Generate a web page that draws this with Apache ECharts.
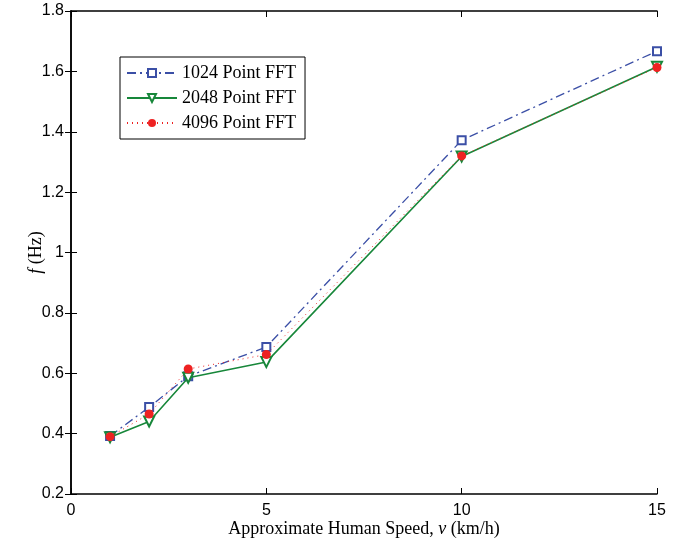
<!DOCTYPE html>
<html>
<head>
<meta charset="utf-8">
<script src="https://cdn.jsdelivr.net/npm/echarts@6/dist/echarts.min.js"></script>
<style>
  html, body { margin: 0; padding: 0; background: #fff; }
  #chart { width: 682px; height: 545px; }
</style>
</head>
<body>
<div id="chart"></div>
<script>
// speeds (km/h)
const speeds = [1, 2, 3, 5, 10, 15]
// estimated frequency (Hz) per FFT size
const fft1024 = [0.392, 0.488, 0.59, 0.687, 1.372, 1.667]
const fft2048 = [0.388, 0.44, 0.585, 0.637, 1.318, 1.615]
const fft4096 = [0.39, 0.465, 0.614, 0.662, 1.32, 1.613]
const seriesNames = ['1024 Point FFT', '2048 Point FFT', '4096 Point FFT']

const pairs = ys => speeds.map((x, i) => [x, ys[i]])

const chart = echarts.init(document.getElementById('chart'))

const tickFont = { fontFamily: 'Liberation Sans, Arial, sans-serif', fontSize: 16, color: '#000' }
const boxLine = { show: true, lineStyle: { color: '#000', width: 1.5 } }
const serifRich = {
  n: { fontFamily: 'Liberation Serif, serif', fontSize: 18, color: '#000' },
  i: { fontFamily: 'Liberation Serif, serif', fontSize: 18, fontStyle: 'italic', color: '#000' }
}

chart.setOption({
  animation: false,
  grid: { left: 71, right: 25, top: 11, bottom: 51, outerBoundsMode: 'none' },
  legend: {
    left: 120,
    top: 57,
    orient: 'vertical',
    data: seriesNames,
    itemWidth: 50,
    itemHeight: 10,
    itemGap: 7,
    padding: [7, 9, 7, 6],
    borderColor: '#000',
    borderWidth: 1,
    backgroundColor: '#fff',
    textStyle: { fontFamily: 'Liberation Serif, Times New Roman, serif', fontSize: 18, color: '#000' }
  },
  xAxis: [
    {
      type: 'value',
      min: 0,
      max: 15,
      interval: 5,
      name: '{n|Approximate Human Speed, }{i|v}{n| (km/h)}',
      nameLocation: 'middle',
      nameGap: 26,
      nameMoveOverlap: false,
      nameTextStyle: { rich: serifRich },
      axisLine: boxLine,
      axisTick: { inside: true, length: 6, lineStyle: { color: '#000' } },
      axisLabel: Object.assign({ margin: 9 }, tickFont),
      splitLine: { show: false }
    },
    {
      type: 'value',
      position: 'top',
      min: 0,
      max: 15,
      interval: 5,
      axisLine: boxLine,
      axisTick: { inside: true, length: 6, lineStyle: { color: '#000' } },
      axisLabel: { show: false },
      splitLine: { show: false }
    }
  ],
  yAxis: [
    {
      type: 'value',
      min: 0.2,
      max: 1.8,
      interval: 0.2,
      name: '{i|f}{n| (Hz)}',
      nameLocation: 'middle',
      nameGap: 26,
      nameMoveOverlap: false,
      nameTextStyle: { rich: serifRich },
      axisLine: boxLine,
      axisTick: { inside: true, length: 6, lineStyle: { color: '#000' } },
      axisLabel: Object.assign({ margin: 7, formatter: v => String(Math.round(v * 10) / 10) }, tickFont),
      splitLine: { show: false }
    },
    {
      type: 'value',
      position: 'right',
      min: 0.2,
      max: 1.8,
      interval: 0.2,
      axisLine: boxLine,
      axisTick: { inside: true, length: 6, lineStyle: { color: '#000' } },
      axisLabel: { show: false },
      splitLine: { show: false }
    }
  ],
  series: [
    {
      name: seriesNames[0],
      type: 'line',
      data: pairs(fft1024),
      symbol: 'emptyRect',
      symbolSize: 8,
      color: '#3b4fa6',
      lineStyle: { width: 1.3, type: [9, 4, 2, 4] },
      itemStyle: { borderWidth: 1.5 },
      z: 3
    },
    {
      name: seriesNames[1],
      type: 'line',
      data: pairs(fft2048),
      symbol: 'emptyTriangle',
      symbolRotate: 180,
      symbolSize: 10,
      color: '#17873a',
      lineStyle: { width: 1.6 },
      itemStyle: { borderWidth: 1.5 },
      z: 4
    },
    {
      name: seriesNames[2],
      type: 'line',
      data: pairs(fft4096),
      symbol: 'circle',
      symbolSize: 9,
      color: '#ee2222',
      lineStyle: { width: 1, type: [1, 4] },
      z: 5
    }
  ]
})
</script>
</body>
</html>
